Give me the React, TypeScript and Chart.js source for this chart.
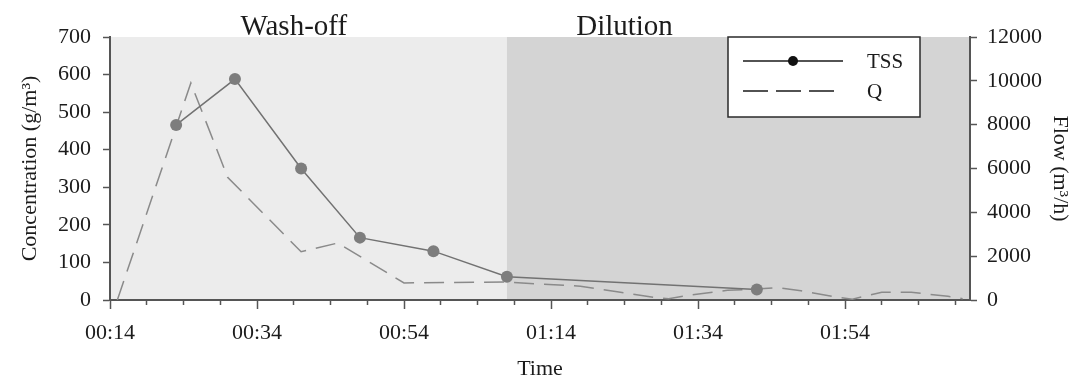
import React, { useEffect, useRef } from 'react';
import { Chart, registerables } from 'chart.js';

Chart.register(...registerables);

// ---------- data ----------
const tssTimes = ['00:23', '00:31', '00:40', '00:48', '00:58', '01:08', '01:42'];
const tssValues = [466, 588, 350, 166, 130, 62, 28];

const qTimes = [
  '00:15', '00:25', '00:30', '00:40', '00:45', '00:54', '01:08', '01:13', '01:18', '01:23', '01:28', '01:30',
  '01:33', '01:38', '01:43', '01:45', '01:48', '01:53', '01:55', '01:59', '02:03', '02:08', '02:10',
];
const qValues = [
  0, 9900, 5600, 2200, 2600, 780, 820, 720, 630, 380, 120, 60,
  230, 440, 520, 560, 420, 120, 40, 350, 350, 170, 60,
];

const timeTickLabels = ['00:14', '00:34', '00:54', '01:14', '01:34', '01:54'];
const timeAxisRange = ['00:14', '02:11'];
const concRange = [0, 700];
const flowRange = [0, 12000];

const phaseNames = ['Wash-off', 'Dilution'];
const phaseStarts = ['00:14', '01:08'];
const phaseLabelAt = ['00:39', '01:24'];

// ---------- helpers ----------
const toMin = (s: string) => {
  const [h, m] = s.split(':').map(Number);
  return h * 60 + m;
};
const fmt = (v: number) => {
  const h = Math.floor(v / 60);
  const m = Math.round(v - h * 60);
  return `${String(h).padStart(2, '0')}:${String(m).padStart(2, '0')}`;
};

const FONT = "'Liberation Serif', 'Times New Roman', serif";
const TEXT = '#1c1c1c';
const AXIS = '#555555';

const phasePlugin = {
  id: 'phases',
  beforeDraw(chart: any, _args: any, opts: any) {
    const { ctx, chartArea } = chart;
    const x = chart.scales.x;
    ctx.save();
    phaseStarts.forEach((s, i) => {
      const x0 = x.getPixelForValue(toMin(s));
      const x1 = i + 1 < phaseStarts.length ? x.getPixelForValue(toMin(phaseStarts[i + 1])) : chartArea.right;
      ctx.fillStyle = opts.colors[i];
      ctx.fillRect(x0, chartArea.top, x1 - x0, chartArea.bottom - chartArea.top);
    });
    ctx.fillStyle = TEXT;
    ctx.font = `29px ${FONT}`;
    ctx.textAlign = 'center';
    ctx.textBaseline = 'alphabetic';
    phaseNames.forEach((n, i) => {
      ctx.fillText(n, x.getPixelForValue(toMin(phaseLabelAt[i])), opts.labelBaseline);
    });
    ctx.restore();
  },
};

const legendPlugin = {
  id: 'boxLegend',
  afterDatasetsDraw(chart: any, _args: any, opts: any) {
    const { ctx } = chart;
    const { left, top, width, height } = opts;
    ctx.save();
    ctx.fillStyle = '#ffffff';
    ctx.fillRect(left, top, width, height);
    ctx.strokeStyle = '#2a2a2a';
    ctx.lineWidth = 1.5;
    ctx.strokeRect(left, top, width, height);
    chart.data.datasets.forEach((ds: any, i: number) => {
      const y = top + opts.firstRow + i * opts.rowGap;
      const dashed = ds.borderDash && ds.borderDash.length;
      const lx0 = left + 15;
      const lx1 = left + (dashed ? 107 : 115);
      ctx.strokeStyle = '#1a1a1a';
      ctx.lineWidth = 1.5;
      ctx.setLineDash(dashed ? [25, 8] : []);
      ctx.beginPath();
      ctx.moveTo(lx0, y);
      ctx.lineTo(lx1, y);
      ctx.stroke();
      ctx.setLineDash([]);
      if (ds.pointRadius > 0) {
        ctx.fillStyle = '#111111';
        ctx.beginPath();
        ctx.arc((lx0 + lx1) / 2, y, 5, 0, Math.PI * 2);
        ctx.fill();
      }
      ctx.fillStyle = TEXT;
      ctx.font = `21px ${FONT}`;
      ctx.textAlign = 'left';
      ctx.textBaseline = 'middle';
      ctx.fillText(ds.label, left + 139, y + 1);
    });
    ctx.restore();
  },
};

export default function App() {
  const ref = useRef<HTMLCanvasElement>(null);

  useEffect(() => {
    document.body.style.margin = '0';
    const canvas = ref.current!;
    const xMin = toMin(timeAxisRange[0]);
    const xMax = toMin(timeAxisRange[1]);

    const chart = new Chart(canvas, {
      type: 'line',
      data: {
        datasets: [
          {
            label: 'TSS',
            data: tssTimes.map((t, i) => ({ x: toMin(t), y: tssValues[i] })),
            yAxisID: 'y',
            borderColor: '#727272',
            borderWidth: 1.5,
            pointRadius: 6,
            pointBackgroundColor: '#7d7d7d',
            pointBorderWidth: 0,
            tension: 0,
          },
          {
            label: 'Q',
            data: qTimes.map((t, i) => ({ x: toMin(t), y: qValues[i] })),
            yAxisID: 'y1',
            borderColor: '#8a8a8a',
            borderWidth: 1.5,
            borderDash: [20, 10],
            pointRadius: 0,
            tension: 0,
          },
        ],
      },
      options: {
        animation: false,
        responsive: false,
        devicePixelRatio: 1,
        layout: { padding: { top: 37, left: 0, right: 0, bottom: 0 } },
        plugins: {
          legend: { display: false },
          tooltip: { enabled: false },
          phases: { colors: ['#ececec', '#d4d4d4'], labelBaseline: 35 },
          boxLegend: { left: 728, top: 37, width: 192, height: 80, firstRow: 24, rowGap: 30 },
        } as any,
        scales: {
          x: {
            type: 'linear',
            position: 'bottom',
            min: xMin,
            max: xMax,
            afterBuildTicks: (s: any) => {
              const t = [];
              for (let v = xMin; v <= xMax; v += 5) t.push({ value: v });
              s.ticks = t;
            },
            afterFit: (s: any) => {
              s.height = 77;
            },
            ticks: {
              autoSkip: false,
              maxRotation: 0,
              minRotation: 0,
              padding: 11,
              color: TEXT,
              font: { family: FONT, size: 22 },
              callback: (v: any) => (timeTickLabels.includes(fmt(Number(v))) ? fmt(Number(v)) : ''),
            },
            grid: {
              drawOnChartArea: false,
              drawTicks: true,
              tickLength: 9,
              tickWidth: 1.5,
              tickColor: AXIS,
              tickBorderDash: (c: any) => (c.tick && timeTickLabels.includes(fmt(c.tick.value)) ? [] : [4, 30]),
            },
            border: { display: true, color: AXIS, width: 2 },
            title: {
              display: true,
              text: 'Time',
              color: TEXT,
              font: { family: FONT, size: 22, lineHeight: 1 },
              padding: { top: 0, bottom: -3 },
            },
          },
          y: {
            type: 'linear',
            position: 'left',
            min: concRange[0],
            max: concRange[1],
            afterFit: (s: any) => {
              s.width = 110;
            },
            ticks: { stepSize: 100, padding: 12, color: TEXT, font: { family: FONT, size: 22 } },
            grid: { drawOnChartArea: false, tickLength: 7, tickWidth: 1.5, tickColor: AXIS },
            border: { display: true, color: AXIS, width: 2 },
            title: {
              display: true,
              text: 'Concentration (g/m³)',
              color: TEXT,
              font: { family: FONT, size: 22 },
              padding: { top: 17, bottom: 0 },
            },
          },
          y1: {
            type: 'linear',
            position: 'right',
            min: flowRange[0],
            max: flowRange[1],
            afterFit: (s: any) => {
              s.width = 106;
            },
            ticks: {
              stepSize: 2000,
              padding: 10,
              color: TEXT,
              font: { family: FONT, size: 22 },
              callback: (v: any) => String(v),
            },
            grid: { drawOnChartArea: false, tickLength: 7, tickWidth: 1.5, tickColor: AXIS },
            border: { display: true, color: AXIS, width: 2 },
            title: {
              display: true,
              text: 'Flow (m³/h)',
              color: TEXT,
              font: { family: FONT, size: 22 },
              padding: { top: 3, bottom: 0 },
            },
          },
        },
      } as any,
      plugins: [phasePlugin, legendPlugin],
    });
    return () => chart.destroy();
  }, []);

  return (
    <div style={{ width: 1076, height: 377 }}>
      <canvas ref={ref} width={1076} height={377} style={{ display: 'block' }} />
    </div>
  );
}
